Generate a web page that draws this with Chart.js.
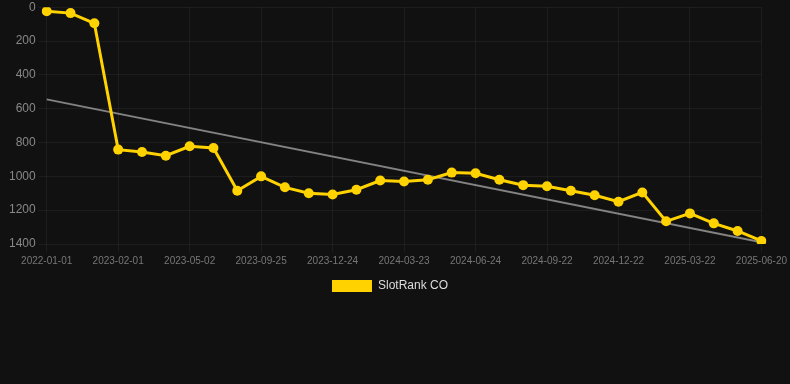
<!DOCTYPE html>
<html>
<head>
<meta charset="utf-8">
<script src="https://cdn.jsdelivr.net/npm/chart.js@4"></script>
<style>
  html, body { margin: 0; padding: 0; background: #111111; }
  .chart-container { width: 790px; height: 384px; }
</style>
</head>
<body>
<div class="chart-container">
  <canvas id="chart"></canvas>
</div>
<script>
// dates of each rank snapshot (only every 3rd one is shown on the axis)
const dates = [
  '2022-01-01', '2022-05-01', '2022-09-01',
  '2023-02-01', '2023-03-03', '2023-04-02',
  '2023-05-02', '2023-06-01', '2023-08-26',
  '2023-09-25', '2023-10-25', '2023-11-24',
  '2023-12-24', '2024-01-23', '2024-02-22',
  '2024-03-23', '2024-04-22', '2024-05-25',
  '2024-06-24', '2024-07-24', '2024-08-23',
  '2024-09-22', '2024-10-22', '2024-11-22',
  '2024-12-22', '2025-01-21', '2025-02-20',
  '2025-03-22', '2025-04-21', '2025-05-21',
  '2025-06-20'
];

const rankCO = [
  24, 35, 95,
  842, 856, 878,
  822, 832, 1085,
  1000, 1065, 1100,
  1107, 1079, 1025,
  1030, 1020, 978,
  982, 1020, 1052,
  1059, 1085, 1112,
  1150, 1095, 1266,
  1219, 1278, 1323,
  1382
];

// trend line, only the two ends are given
const trendStart = 545;
const trendEnd = 1390;

const yTicks = [0, 200, 400, 600, 800, 1000, 1200, 1400];

const trend = dates.map((d, i) => i === 0 ? trendStart : (i === dates.length - 1 ? trendEnd : null));

const ctx = document.getElementById('chart').getContext('2d');
const chart = new Chart(ctx, {
  type: 'line',
  data: {
    labels: dates,
    datasets: [{
      label: 'SlotRank CO',
      data: rankCO,
      borderColor: '#FFD200',
      backgroundColor: '#FFD200',
      borderWidth: 3,
      pointRadius: 5,
      pointBackgroundColor: '#FFD200',
      pointBorderWidth: 0,
      fill: false,
      tension: 0,
      order: 1
    }, {
      label: 'trend',
      data: trend,
      spanGaps: true,
      borderColor: 'rgba(150,150,150,0.85)',
      borderWidth: 2,
      pointRadius: 0,
      fill: false,
      tension: 0,
      order: 2
    }]
  },
  options: {
    responsive: true,
    maintainAspectRatio: false,
    animation: false,
    layout: { padding: { left: 6, right: 16, top: 0, bottom: 82 } },
    plugins: {
      legend: {
        position: 'bottom',
        labels: {
          color: '#dddddd',
          font: { size: 12 },
          boxWidth: 40,
          boxHeight: 12,
          generateLabels: function (c) {
            const items = Chart.defaults.plugins.legend.labels.generateLabels(c);
            return items.filter(it => it.text !== 'trend').map(it => {
              it.lineWidth = 0;
              return it;
            });
          }
        }
      },
      tooltip: { enabled: false }
    },
    scales: {
      x: {
        grid: { color: 'rgba(255,255,255,0.05)' },
        border: { display: false },
        ticks: {
          color: '#777777',
          font: { size: 10 },
          maxRotation: 0,
          autoSkip: false,
          callback: function (val, i) {
            return i % 3 === 0 ? dates[i] : null;
          }
        }
      },
      y: {
        reverse: true,
        min: yTicks[0],
        max: yTicks[yTicks.length - 1],
        grid: { color: 'rgba(255,255,255,0.05)' },
        border: { display: false },
        ticks: {
          stepSize: 200,
          color: '#888888',
          font: { size: 12, lineHeight: 0.7 },
          callback: (v) => String(v)
        }
      }
    }
  }
});
</script>
</body>
</html>
